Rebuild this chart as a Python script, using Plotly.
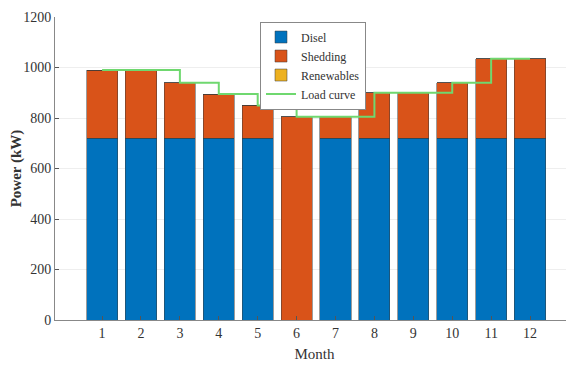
import plotly.graph_objects as go

months = [1, 2, 3, 4, 5, 6, 7, 8, 9, 10, 11, 12]
disel = [720, 720, 720, 720, 720, 0, 720, 720, 720, 720, 720, 720]
shedding = [270, 270, 220, 175, 130, 805, 85, 180, 180, 220, 315, 315]
renewables = [0, 0, 0, 0, 0, 0, 0, 0, 0, 0, 0, 0]
load_curve = [990, 990, 940, 895, 850, 805, 805, 900, 900, 940, 1035, 1035]
y_ticks = [0, 200, 400, 600, 800, 1000, 1200]

font_family = "Liberation Serif, Times New Roman, serif"
edge = dict(color="#3a3a3a", width=0.5)

fig = go.Figure()
fig.add_trace(go.Bar(x=months, y=disel, name="Disel", marker=dict(color="#0072BD", line=edge), width=0.8))
fig.add_trace(go.Bar(x=months, y=shedding, name="Shedding", marker=dict(color="#D95319", line=edge), width=0.8))
fig.add_trace(go.Bar(x=months, y=renewables, name="Renewables", marker=dict(color="#EDB120", line=edge), width=0.8))
fig.add_trace(go.Scatter(x=months, y=load_curve, name="Load curve", mode="lines",
                         line=dict(color="#6fd86f", width=2, shape="hv")))

fig.update_layout(
    barmode="stack",
    width=566, height=357,
    margin=dict(l=47, r=0, t=9, b=45),
    paper_bgcolor="white", plot_bgcolor="white",
    font=dict(family=font_family, size=14, color="#333333"),
    legend=dict(x=0.395, y=0.985, xanchor="left", yanchor="top",
                bgcolor="white", bordercolor="#888888", borderwidth=1,
                font=dict(size=12, color="#333333"), tracegroupgap=0,
                traceorder="normal", itemwidth=30),
    showlegend=True,
)
fig.update_xaxes(range=[-0.21, 13.13], tickvals=months, ticktext=[str(m) for m in months],
                 ticks="inside", ticklen=4, tickcolor="#555555",
                 showline=True, linecolor="#888888", linewidth=1,
                 showgrid=False, zeroline=False, automargin=False,
                 title=dict(text="Month", font=dict(size=15), standoff=8))
fig.update_yaxes(range=[0, 1200], tickvals=y_ticks,
                 ticks="inside", ticklen=4, tickcolor="#555555",
                 showline=True, linecolor="#888888", linewidth=1,
                 showgrid=True, gridcolor="#eeeeee", zeroline=False, automargin=False,
                 title=dict(text="<b>Power (kW)</b>", font=dict(size=15), standoff=4))

fig.write_html("out.html")
